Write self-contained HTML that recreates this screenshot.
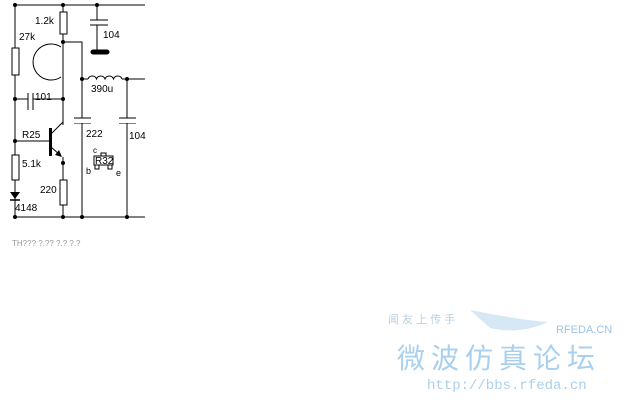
<!DOCTYPE html>
<html><head><style>body{margin:0;background:#fff;width:640px;height:400px;overflow:hidden;position:relative}svg{position:absolute;left:0;top:0}</style></head><body>
<svg width="640" height="400" font-family="Liberation Sans, sans-serif" font-size="10">
<g stroke="#000" stroke-width="1" fill="none">
<path d="M15 5H145M15 5V217M15 217H145"/>
<path d="M63 5V12M63 34V125M63 42H82V217M82 79H88M122 79H145M127 79V217"/>
<path d="M97 5V20M90 20H108M90 25H108M97 25V52"/>
<path d="M88 79a4.5 4.5 0 0 1 8.5 0a4.5 4.5 0 0 1 8.5 0a4.5 4.5 0 0 1 8.5 0a4.5 4.5 0 0 1 8.5 0"/>
<path d="M15 99H28M33 99H63M28 93V110M33 93V110"/>
<path d="M61 47A18 18 0 1 0 61 77"/>
<path d="M15 141H50M50 135L63 122M51 147L60 155M63 157V180M63 205V217"/>
<path d="M74 118H91M74 123H91M119 118H136M119 123H136"/>
<rect x="12" y="48" width="7" height="27" fill="#fff"/>
<rect x="60" y="12" width="7" height="22" fill="#fff"/>
<rect x="12" y="155" width="7" height="25" fill="#fff"/>
<rect x="60" y="180" width="7" height="25" fill="#fff"/>
<path d="M94 156H113V165H94Z M101 156V153H106V156 M95 165V169H99V165 M108 165V169H112V165"/>
</g>
<rect x="74" y="118.5" width="17" height="4.5" fill="#fff"/>
<rect x="119" y="118.5" width="17" height="4.5" fill="#fff"/>
<rect x="49" y="128" width="3" height="28" fill="#000"/>
<line x1="93" y1="52" x2="107" y2="52" stroke="#000" stroke-width="5" stroke-linecap="round"/>
<polygon points="62,157 55,155 59,150" fill="#000"/>
<polygon points="10,192 20,192 15,199" fill="#000"/>
<path d="M10 200H20" stroke="#000" stroke-width="1.5"/>
<g fill="#000">
<circle cx="15" cy="5" r="2"/><circle cx="63" cy="5" r="2"/><circle cx="97" cy="5" r="2"/>
<circle cx="63" cy="42" r="2"/><circle cx="82" cy="79" r="2"/><circle cx="127" cy="79" r="2"/>
<circle cx="15" cy="99" r="2"/><circle cx="63" cy="99" r="2"/><circle cx="15" cy="141" r="2"/>
<circle cx="63" cy="163" r="2"/><circle cx="15" cy="217" r="2"/><circle cx="63" cy="217" r="2"/>
<circle cx="82" cy="217" r="2"/><circle cx="127" cy="217" r="2"/>
<text x="35" y="24">1.2k</text><text x="19" y="40">27k</text><text x="103" y="38">104</text>
<text x="35" y="100">101</text><text x="91" y="92">390u</text>
<text x="22" y="138">R25</text><text x="86" y="137">222</text><text x="129" y="139">104</text>
<text x="22" y="167">5.1k</text><text x="40" y="193">220</text><text x="15" y="211">4148</text>
<text x="93" y="153" font-size="8">c</text><text x="95" y="164">R32</text>
<text x="86" y="174" font-size="9">b</text><text x="116" y="176" font-size="9">e</text>
</g>
<text x="12" y="246" fill="#999" font-size="8">TH???     ?.??  ?.? ?.?</text>
<g font-family="Liberation Sans, 'Noto Sans CJK SC', sans-serif">
<text x="388" y="323" fill="#b8cfe0" font-size="11">闻 友 上 传 手</text>
<path d="M470 310Q520 320 548 322Q520 335 490 328Z" fill="#d6e8f4"/>
<text x="556" y="333" fill="#9ec3e8" font-size="11">RFEDA.CN</text>
<text x="397" y="368" fill="#a9d0ee" font-size="28" letter-spacing="6">微波仿真论坛</text>
<text x="427" y="389" fill="#a9d0ee" font-size="14" font-family="Liberation Mono, monospace">http://bbs.rfeda.cn</text>
</g>
</svg>
</body></html>
